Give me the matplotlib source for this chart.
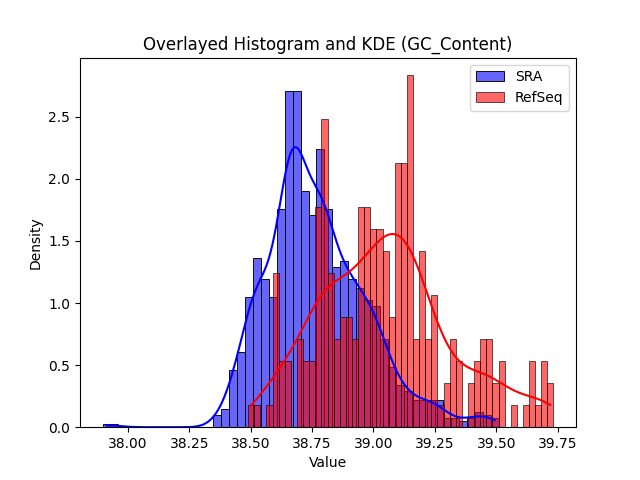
import matplotlib
matplotlib.use("Agg")
import matplotlib.pyplot as plt
import numpy as np
import seaborn as sns

# GC content histograms: 50 bins per source
sra_start, sra_width = 37.897, 0.03226
refseq_start, refseq_width = 38.490, 0.02486

# counts per bin (SRA)
sra_counts = [1, 1, 0, 0, 0, 0, 0, 0, 0, 0,
              0, 0, 0, 0, 4, 6, 19, 25, 43, 56,
              49, 43, 72, 111, 111, 78, 70, 92, 72, 53,
              55, 49, 46, 42, 40, 29, 20, 14, 12, 9,
              9, 9, 9, 3, 3, 2, 3, 5, 4, 3]

# counts per bin (RefSeq)
refseq_counts = [1, 1, 0, 1, 7, 3, 3, 0, 4, 3,
                 3, 10, 14, 7, 4, 5, 5, 4, 10, 10,
                 9, 9, 8, 5, 12, 12, 16, 4, 8, 4,
                 6, 1, 2, 4, 3, 0, 2, 3, 4, 4,
                 2, 3, 0, 1, 0, 1, 3, 1, 3, 2]

sra_edges = sra_start + sra_width * np.arange(len(sra_counts) + 1)
refseq_edges = refseq_start + refseq_width * np.arange(len(refseq_counts) + 1)

# rebuild sample values from the bin centres
sra = np.repeat((sra_edges[:-1] + sra_edges[1:]) / 2, sra_counts)
refseq = np.repeat((refseq_edges[:-1] + refseq_edges[1:]) / 2, refseq_counts)

fig, ax = plt.subplots(figsize=(6.4, 4.8), dpi=100)
# binned values smear the kde a bit, so tighten the SRA bandwidth slightly
sns.histplot(sra, bins=sra_edges, stat="density", kde=True, color="blue",
             alpha=0.6, label="SRA", kde_kws={"bw_adjust": 0.92}, ax=ax)
sns.histplot(refseq, bins=refseq_edges, stat="density", kde=True, color="red",
             alpha=0.6, label="RefSeq", ax=ax)

ax.set_title("Overlayed Histogram and KDE (GC_Content)")
ax.set_xlabel("Value")
ax.set_ylabel("Density")
ax.legend()

plt.savefig("out.png")
